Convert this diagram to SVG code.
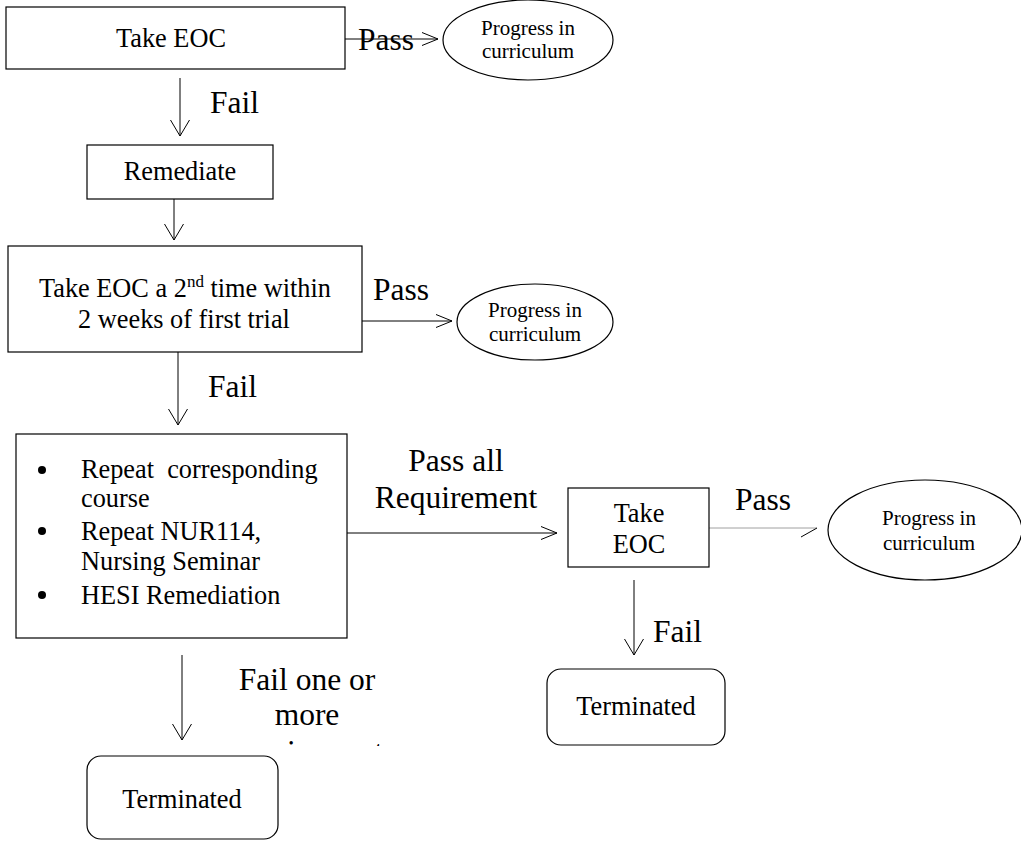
<svg xmlns="http://www.w3.org/2000/svg" width="1021" height="843" viewBox="0 0 1021 843">
<style>
.box{fill:#fff;stroke:#000;stroke-width:1.2}
.ln{fill:none;stroke:#000;stroke-width:1}
.faint{fill:none;stroke:#a0a0a0;stroke-width:1}
.bt{font-size:26.3px;fill:#000;stroke:none}
.lb{font-size:31.5px;fill:#000;stroke:none}
.et{font-size:21px;fill:#000;stroke:none}
.mid{text-anchor:middle}
</style>
<defs>
<marker id="ahH" viewBox="-17 -10 18 20" refX="0" refY="0" markerWidth="18" markerHeight="20" markerUnits="userSpaceOnUse" orient="auto">
<path d="M-16,-6.5 L0,0 L-16,6.5" fill="none" stroke="#000" stroke-width="1"/>
</marker>
<marker id="ahV" viewBox="-17 -11 18 22" refX="0" refY="0" markerWidth="18" markerHeight="22" markerUnits="userSpaceOnUse" orient="auto">
<path d="M-16,-9.5 L0,0 L-16,9.5" fill="none" stroke="#000" stroke-width="1"/>
</marker>
<clipPath id="clip3"><rect x="200" y="736" width="200" height="10"/></clipPath>
</defs>
<rect width="1021" height="843" fill="#fff"/>
<g font-family="Liberation Serif, 'Times New Roman', serif">
<g id="connectors">
<line class="ln" x1="345" y1="39" x2="438" y2="39" marker-end="url(#ahH)"/>
<line class="ln" x1="180" y1="78" x2="180" y2="136" marker-end="url(#ahV)"/>
<line class="ln" x1="174" y1="199" x2="174" y2="240" marker-end="url(#ahV)"/>
<line class="ln" x1="362" y1="321" x2="452" y2="321" marker-end="url(#ahH)"/>
<line class="ln" x1="178" y1="352" x2="178" y2="425" marker-end="url(#ahV)"/>
<line class="ln" x1="347" y1="533" x2="557" y2="533" marker-end="url(#ahH)"/>
<line class="faint" x1="709" y1="528" x2="817" y2="528"/>
<line class="ln" x1="801" y1="537" x2="817" y2="528"/>
<line class="ln" x1="634" y1="580" x2="634" y2="655" marker-end="url(#ahV)"/>
<line class="ln" x1="182" y1="655" x2="182" y2="740" marker-end="url(#ahV)"/>
<text class="lb" x="358" y="50">Pass</text>
<text class="lb" x="210" y="113">Fail</text>
<text class="lb" x="373" y="300">Pass</text>
<text class="lb" x="208" y="397">Fail</text>
<text class="lb mid" x="456" y="471">Pass all</text>
<text class="lb mid" x="456" y="508">Requirement</text>
<text class="lb" x="735" y="510">Pass</text>
<text class="lb" x="653" y="642">Fail</text>
<text class="lb mid" x="307" y="690">Fail one or</text>
<text class="lb mid" x="307" y="725">more</text>
<text class="lb mid" x="307" y="762" clip-path="url(#clip3)">requirement</text>
</g>
<g id="n1"><rect class="box" x="6" y="7" width="339" height="62"/><text class="bt mid" x="171" y="47">Take EOC</text></g>
<g id="e1"><ellipse class="box" cx="528" cy="40" rx="85" ry="40"/><text class="et mid" x="528" y="35">Progress in</text><text class="et mid" x="528" y="58">curriculum</text></g>
<g id="n2"><rect class="box" x="87" y="145" width="186" height="54"/><text class="bt mid" x="180" y="180">Remediate</text></g>
<g id="n3"><rect class="box" x="8" y="246" width="354" height="106"/><text class="bt mid" x="185" y="297">Take EOC a 2<tspan font-size="17" dy="-10">nd</tspan><tspan dy="10"> time within</tspan></text><text class="bt mid" x="184" y="328">2 weeks of first trial</text></g>
<g id="e2"><ellipse class="box" cx="535" cy="322" rx="78" ry="38"/><text class="et mid" x="535" y="317">Progress in</text><text class="et mid" x="535" y="341">curriculum</text></g>
<g id="n4"><rect class="box" x="16" y="434" width="331" height="204"/>
<circle cx="42" cy="470" r="4"/><circle cx="42" cy="531" r="4"/><circle cx="42" cy="595" r="4"/>
<text class="bt" x="81" y="478" xml:space="preserve">Repeat  corresponding</text>
<text class="bt" x="81" y="507">course</text>
<text class="bt" x="81" y="540">Repeat NUR114,</text>
<text class="bt" x="81" y="570">Nursing Seminar</text>
<text class="bt" x="81" y="604">HESI Remediation</text>
</g>
<g id="n5"><rect class="box" x="568" y="488" width="141" height="79"/><text class="bt mid" x="639" y="522">Take</text><text class="bt mid" x="639" y="553">EOC</text></g>
<g id="e3"><ellipse class="box" cx="925" cy="530" rx="97" ry="50"/><text class="et mid" x="929" y="525">Progress in</text><text class="et mid" x="929" y="550">curriculum</text></g>
<g id="n6"><rect class="box" x="547" y="669" width="178" height="76" rx="14"/><text class="bt mid" x="636" y="715">Terminated</text></g>
<g id="n7"><rect class="box" x="87" y="756" width="191" height="83" rx="14"/><text class="bt mid" x="182" y="808">Terminated</text></g>
</g>
</svg>
